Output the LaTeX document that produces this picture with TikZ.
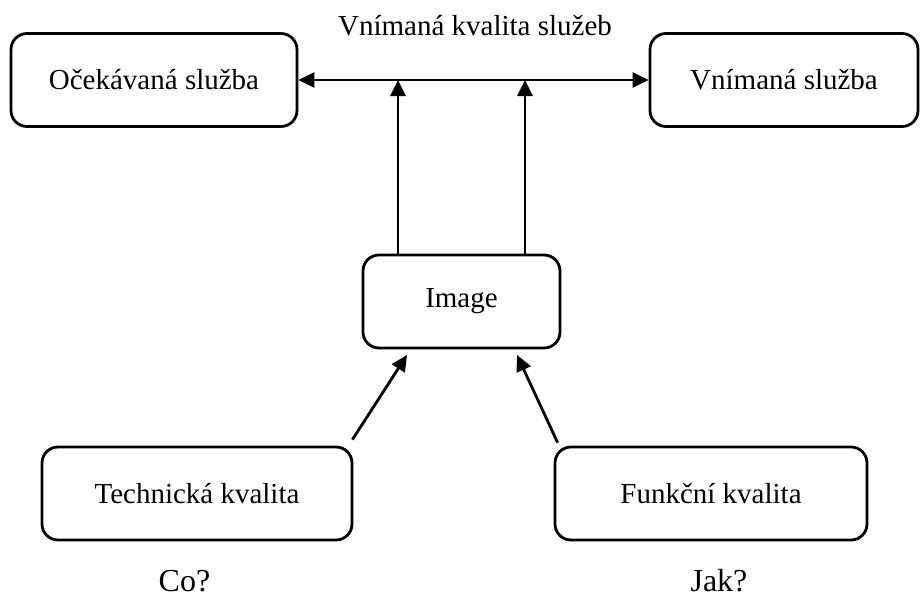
\documentclass[tikz,border=0pt]{standalone}
\usepackage{fontspec}
\setmainfont{Liberation Serif}
\usetikzlibrary{arrows.meta}
\begin{document}
\begin{tikzpicture}[x=1pt,y=-1pt,
  box/.style={draw, line width=2.8pt, rounded corners=16pt, minimum height=93pt,
              inner sep=0pt, font=\fontsize{29}{34}\selectfont},
  lbl/.style={inner sep=0pt, anchor=base, font=\fontsize{29}{34}\selectfont},
  qlbl/.style={lbl, font=\fontsize{32}{38}\selectfont},
  arr/.style={line width=2.8pt, -{Triangle[length=16pt,width=15pt]}},
  darr/.style={line width=2.8pt, {Triangle[length=16pt,width=15pt]}-{Triangle[length=16pt,width=15pt]}}]
\useasboundingbox (0,0) rectangle (923,605);

% boxes
\node[box, minimum width=286pt] (exp) at (154,80) {Očekávaná služba};
\node[box, minimum width=268pt] (per) at (784,80) {Vnímaná služba};
\node[box, minimum width=197pt] (img) at (461.5,301.5) {Image};
\node[box, minimum width=310pt] (tech) at (197,493.5) {Technická kvalita};
\node[box, minimum width=312pt] (func) at (711,493.5) {Funkční kvalita};

% free texts
\node[lbl] (title) at (475,35) {Vnímaná kvalita služeb};
\node[qlbl] (co) at (184.5,591) {Co?};
\node[qlbl] (jak) at (719,591) {Jak?};

% connectors
\draw[darr] (exp.east) -- (per.west);
\coordinate (u1) at (398,80);
\coordinate (u2) at (525,80);
\draw[arr] (img.north -| u1) -- (u1);
\draw[arr] (img.north -| u2) -- (u2);
\coordinate (p1) at (407,355);
\coordinate (p2) at (517,355);
\draw[arr] ([xshift=-1pt,yshift=6pt]tech.north east) -- (p1);
\draw[arr] ([xshift=4pt,yshift=3pt]func.north west) -- (p2);
\end{tikzpicture}
\end{document}
